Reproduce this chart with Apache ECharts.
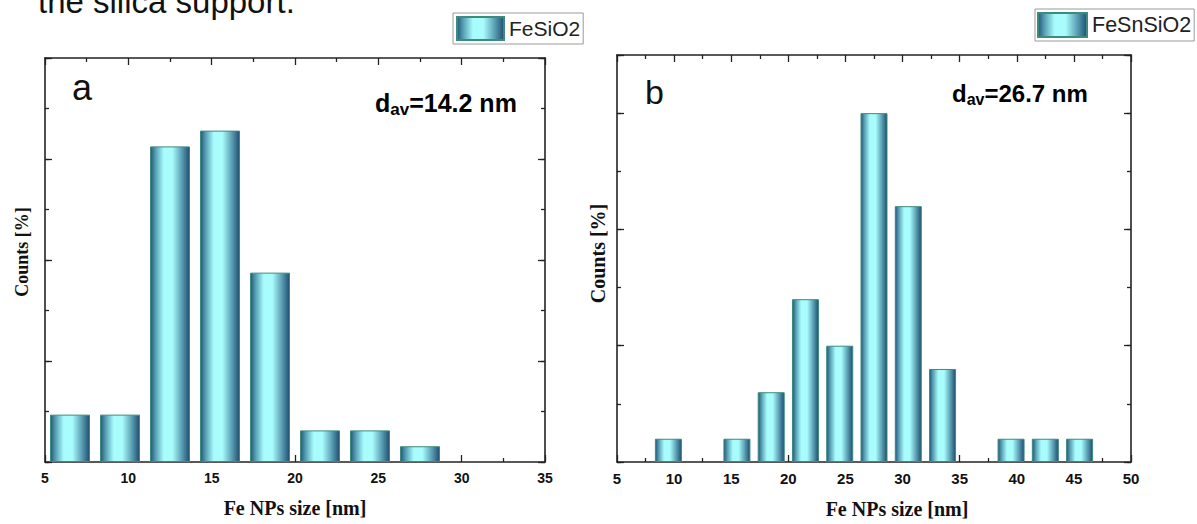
<!DOCTYPE html>
<html><head><meta charset="utf-8">
<script src="https://cdn.jsdelivr.net/npm/echarts@6/dist/echarts.min.js"></script>
<style>html,body{margin:0;padding:0;background:#fff}#c{width:1197px;height:524px}</style>
</head><body><div id="c"></div>
<script>
// ---- data ----
const binsA = [6.5, 9.5, 12.5, 15.5, 18.5, 21.5, 24.5, 27.5];
const countsA = [4.69, 4.69, 31.25, 32.81, 18.75, 3.13, 3.13, 1.56];
const binsB = [9.5, 15.5, 18.5, 21.5, 24.5, 27.5, 30.5, 33.5, 39.5, 42.5, 45.5];
const countsB = [2, 2, 6, 14, 10, 30, 22, 8, 2, 2, 2];
const xTickLabelsA = [5, 10, 15, 20, 25, 30, 35];
const xTickLabelsB = [5, 10, 15, 20, 25, 30, 35, 40, 45, 50];
const yRangeA = [0, 40];
const yRangeB = [0, 35];
const seriesNames = ['FeSiO2', 'FeSnSiO2'];
const panelLetters = ['a', 'b'];
const avgSizes = ['14.2', '26.7'];
const xTitle = 'Fe NPs size [nm]';
const yTitle = 'Counts [%]';
const captionText = 'the silica support.';

// ---- styles ----
const SANS = '"Liberation Sans", Arial, sans-serif';
const SERIF = '"Liberation Serif", "Times New Roman", serif';
const AX = '#222';
const grad = {type:'linear', x:0, y:0, x2:1, y2:0, colorStops:[
  {offset:0, color:'#23587a'},
  {offset:0.14, color:'#5aa3b7'},
  {offset:0.34, color:'#a8fcfc'},
  {offset:0.56, color:'#a8fcfc'},
  {offset:0.80, color:'#5b9fb4'},
  {offset:1, color:'#1f4f70'}
]};

function xAx(grid, labels, pos, showLabel, fs, margin, nameGap, namePad) {
  const o = {
    gridIndex: grid, type:'value', position: pos,
    min: labels[0], max: labels[labels.length-1], interval: labels[1]-labels[0],
    axisLine:{show:true, onZero:false, lineStyle:{color:AX, width:1.6}},
    axisTick:{show:true, inside:true, length:7, lineStyle:{color:AX, width:1.3}},
    minorTick:{show:true, splitNumber:2, length:4, lineStyle:{color:AX, width:1.3}},
    splitLine:{show:false}, minorSplitLine:{show:false},
    axisLabel:{show:showLabel, fontFamily:SANS, fontWeight:'bold', fontSize:fs, color:'#111', margin:margin}
  };
  if (showLabel) {
    o.name = xTitle; o.nameLocation = 'middle'; o.nameGap = nameGap;
    o.nameTextStyle = {fontFamily:SERIF, fontWeight:'bold', fontSize:20, color:'#111', padding:namePad};
  }
  return o;
}
function yAx(grid, range, interval, pos, len, showLine, name, nameGap, nameFs, namePad) {
  const o = {
    gridIndex: grid, type:'value', position: pos,
    min: range[0], max: range[1], interval: interval,
    axisLine:{show:showLine, onZero:false, lineStyle:{color:AX, width:1.6}},
    axisTick:{show:true, inside:true, length:len, lineStyle:{color:AX, width:1.3}},
    splitLine:{show:false},
    axisLabel:{show:false}
  };
  if (name) {
    o.name = name; o.nameLocation = 'middle'; o.nameGap = nameGap; o.nameRotate = 90;
    o.nameTextStyle = {fontFamily:SERIF, fontWeight:'bold', fontSize:nameFs, color:'#111', padding:namePad};
  }
  return o;
}

const chart = echarts.init(document.getElementById('c'), null, {renderer:'svg'});
chart.setOption({
  backgroundColor:'#fff',
  animation:false,
  grid:[
    {left:45, top:58, width:500, height:404},
    {left:617, top:55, width:514, height:413}
  ],
  xAxis:[
    xAx(0, xTickLabelsA, 'bottom', true, 14, 9, 36, [0,0,0,0]),
    xAx(0, xTickLabelsA, 'top', false),
    xAx(1, xTickLabelsB, 'bottom', true, 15, 9, 37, [0,0,0,46]),
    xAx(1, xTickLabelsB, 'top', false)
  ],
  yAxis:[
    yAx(0, yRangeA, 5, 'left', 4, true, yTitle, 14, 18, [0,0,0,16]),
    yAx(0, yRangeA, 10, 'left', 7, false),
    yAx(0, yRangeA, 5, 'right', 4, true),
    yAx(0, yRangeA, 10, 'right', 7, false),
    yAx(1, yRangeB, 5, 'left', 4, true, yTitle, 9, 20, [0,0,0,10]),
    yAx(1, yRangeB, 10, 'left', 7, false),
    yAx(1, yRangeB, 5, 'right', 4, true),
    yAx(1, yRangeB, 10, 'right', 7, false)
  ],
  legend:[
    {data:[seriesNames[0]], left:453, top:13, itemWidth:47, itemHeight:23, padding:[3,3,3,3],
     borderColor:'#9a9a9a', borderWidth:1, icon:'rect', selectedMode:false,
     textStyle:{fontFamily:SANS, fontSize:21, color:'#222'}},
    {data:[seriesNames[1]], left:1035, top:9, itemWidth:49, itemHeight:24, padding:[3,3,3,2],
     borderColor:'#9a9a9a', borderWidth:1, icon:'rect', selectedMode:false,
     textStyle:{fontFamily:SANS, fontSize:21.5, color:'#222'}}
  ],
  series:[
    {type:'bar', name:seriesNames[0], xAxisIndex:0, yAxisIndex:0, barWidth:40,
     data: binsA.map((b,i)=>[b, countsA[i]]),
     itemStyle:{color:grad, borderColor:'#3c8b7d', borderWidth:1}},
    {type:'bar', name:seriesNames[1], xAxisIndex:2, yAxisIndex:4, barWidth:27,
     data: binsB.map((b,i)=>[b, countsB[i]]),
     itemStyle:{color:grad, borderColor:'#3c8b7d', borderWidth:1}}
  ],
  graphic:[
    {type:'text', x:38, y:1.5, style:{text:captionText, font:'33px '+SANS, fill:'#111', verticalAlign:'middle'}},
    {type:'text', x:72, y:87.5, style:{text:panelLetters[0], font:'36px '+SANS, fill:'#111', verticalAlign:'middle'}},
    {type:'text', x:645, y:92, style:{text:panelLetters[1], font:'34px '+SANS, fill:'#111', verticalAlign:'middle'}},
    {type:'text', x:375, y:103, style:{text:'{m|d}{s|av}{m|=' + avgSizes[0] + ' nm}', verticalAlign:'middle',
      rich:{m:{fontFamily:SANS, fontWeight:'bold', fontSize:25, lineHeight:29, color:'#111', verticalAlign:'middle'},
            s:{fontFamily:SANS, fontWeight:'bold', fontSize:17, lineHeight:17, color:'#111', verticalAlign:'bottom'}}}},
    {type:'text', x:952, y:93, style:{text:'{m|d}{s|av}{m|=' + avgSizes[1] + ' nm}', verticalAlign:'middle',
      rich:{m:{fontFamily:SANS, fontWeight:'bold', fontSize:24, lineHeight:28, color:'#111', verticalAlign:'middle'},
            s:{fontFamily:SANS, fontWeight:'bold', fontSize:16, lineHeight:16, color:'#111', verticalAlign:'bottom'}}}}
  ]
});
</script></body></html>
